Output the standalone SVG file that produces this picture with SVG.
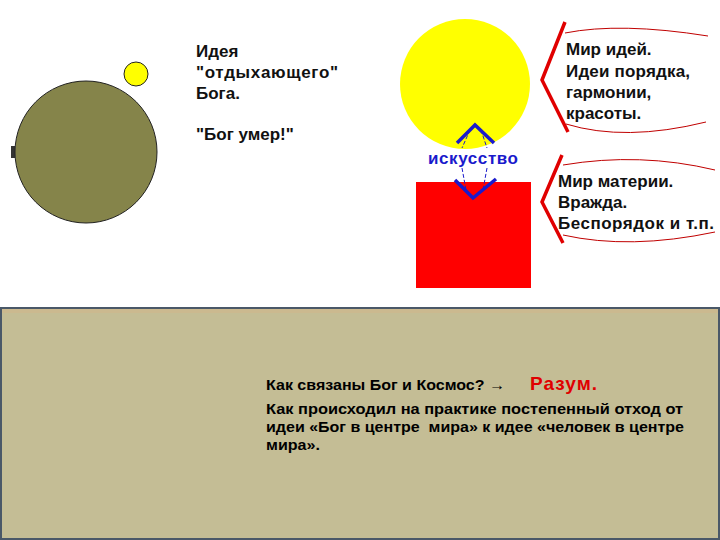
<svg xmlns="http://www.w3.org/2000/svg" width="720" height="540" viewBox="0 0 720 540">
<style>
.t{font-family:"Liberation Sans",Arial,sans-serif;font-size:17px;font-weight:bold;fill:#111}
.b{font-family:"Liberation Sans",Arial,sans-serif;font-size:15px;font-weight:bold;fill:#000;white-space:pre}
.thick{stroke:#e00000;stroke-width:3.5;fill:none;stroke-linejoin:miter}
.thin{stroke:#c00000;stroke-width:1;fill:none}
.blue{stroke:#1a1acc;stroke-width:3.5;fill:none}
.bthin{stroke:#1a1acc;stroke-width:1;fill:none;stroke-dasharray:4 2}
</style>
<rect width="720" height="540" fill="#fff"/>
<g id="earth">
<rect x="11" y="146" width="4" height="12" fill="#333"/>
<circle cx="86" cy="152" r="71" fill="#85844a" stroke="#222" stroke-width="1"/>
</g>
<g id="sun-small"><circle cx="136" cy="74" r="12" fill="#ffff00" stroke="#222" stroke-width="1"/></g>
<g id="god-text">
<text class="t" x="196" y="57">Идея</text>
<text class="t" x="196" y="78" textLength="142">"отдыхающего"</text>
<text class="t" x="196" y="99">Бога.</text>
<text class="t" x="196" y="140">"Бог умер!"</text>
</g>
<g id="ideas-circle"><circle cx="465" cy="84" r="65" fill="#ffff00"/></g>
<g id="matter-rect"><rect x="416" y="182" width="115" height="106" fill="#ff0000"/></g>
<g id="art">
<text x="428" y="164" textLength="90" font-family="Liberation Sans, Arial, sans-serif" font-size="17" font-weight="bold" fill="#1a1acc">искусство</text>
</g>
<g id="connectors">
<polyline class="blue" points="457,143 475,125 494,143"/>
<polyline class="blue" points="455,180 473,198 496,179"/>
<line class="bthin" x1="470" y1="130" x2="462" y2="148"/>
<line class="bthin" x1="481" y1="130" x2="487" y2="148"/>
<line class="bthin" x1="462" y1="168" x2="466" y2="190"/>
<line class="bthin" x1="487" y1="168" x2="483" y2="190"/>
<polyline class="thick" points="565,22 542,80 568,132"/>
<path class="thin" d="M565,33 Q620,22 708,36"/>
<path class="thin" d="M566,124 Q625,142 706,122"/>
<polyline class="thick" points="562,155 542,202 563,243"/>
<path class="thin" d="M563,165 Q640,152 715,170"/>
<path class="thin" d="M563,235 Q630,250 715,232"/>
</g>
<g id="ideas-text">
<text class="t" x="566" y="55">Мир идей.</text>
<text class="t" x="566" y="77" textLength="124">Идеи порядка,</text>
<text class="t" x="566" y="98">гармонии,</text>
<text class="t" x="566" y="119">красоты.</text>
</g>
<g id="matter-text">
<text class="t" x="558" y="187">Мир материи.</text>
<text class="t" x="558" y="208">Вражда.</text>
<text class="t" x="558" y="229" textLength="156">Беспорядок и т.п.</text>
</g>
<g id="panel">
<rect x="1" y="308" width="718" height="231" fill="#c4bd95" stroke="#4a5868" stroke-width="2"/>
<rect x="2" y="309" width="716" height="4" fill="#cbb98f"/>
<text class="b" x="266" y="390" textLength="239" lengthAdjust="spacingAndGlyphs">Как связаны Бог и Космос? →</text>
<text x="530" y="390" textLength="67" font-family="Liberation Sans, Arial, sans-serif" font-size="19" font-weight="bold" fill="#e00000">Разум.</text>
<text class="b" x="266" y="414" textLength="417" lengthAdjust="spacingAndGlyphs">Как происходил на практике постепенный отход от</text>
<text class="b" x="266" y="432" textLength="418" lengthAdjust="spacingAndGlyphs">идеи «Бог в центре  мира» к идее «человек в центре</text>
<text class="b" x="266" y="450" textLength="54" lengthAdjust="spacingAndGlyphs">мира».</text>
</g>
</svg>
